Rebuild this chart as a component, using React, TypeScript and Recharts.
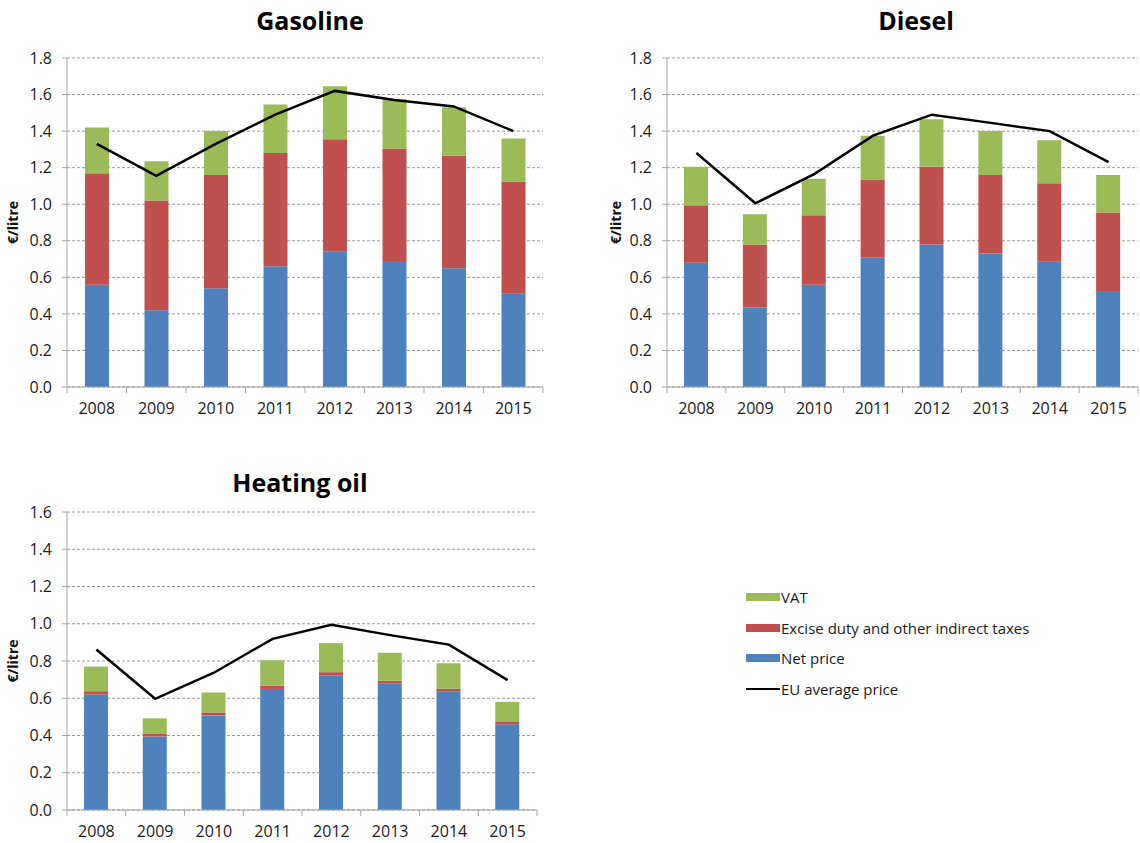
import React from 'react';
import { ComposedChart, Bar, Line, XAxis, YAxis, CartesianGrid } from 'recharts';

const FONT = '"Open Sans", sans-serif';

const years = ['2008', '2009', '2010', '2011', '2012', '2013', '2014', '2015'];

const gasolineNet = [0.56, 0.42, 0.54, 0.66, 0.74, 0.69, 0.65, 0.51];
const gasolineExcise = [0.61, 0.6, 0.62, 0.62, 0.615, 0.615, 0.615, 0.615];
const gasolineVat = [0.25, 0.215, 0.24, 0.265, 0.29, 0.27, 0.265, 0.235];
const gasolineEu = [1.33, 1.155, 1.33, 1.49, 1.62, 1.57, 1.535, 1.4];

const dieselNet = [0.68, 0.435, 0.56, 0.71, 0.78, 0.73, 0.685, 0.525];
const dieselExcise = [0.315, 0.345, 0.38, 0.425, 0.425, 0.43, 0.43, 0.43];
const dieselVat = [0.21, 0.165, 0.2, 0.24, 0.26, 0.24, 0.235, 0.205];
const dieselEu = [1.28, 1.005, 1.165, 1.375, 1.49, 1.445, 1.4, 1.23];

const heatingNet = [0.62, 0.395, 0.508, 0.65, 0.722, 0.678, 0.635, 0.46];
const heatingExcise = [0.018, 0.016, 0.016, 0.017, 0.018, 0.016, 0.016, 0.016];
const heatingVat = [0.132, 0.081, 0.107, 0.137, 0.156, 0.15, 0.137, 0.105];
const heatingEu = [0.862, 0.597, 0.737, 0.919, 0.994, 0.939, 0.888, 0.697];

const ticks18 = [0, 0.2, 0.4, 0.6, 0.8, 1.0, 1.2, 1.4, 1.6, 1.8];
const ticks16 = [0, 0.2, 0.4, 0.6, 0.8, 1.0, 1.2, 1.4, 1.6];

const COLORS = { net: '#4F81BD', excise: '#C0504D', vat: '#9BBB59', eu: '#000000' };
const NAMES = {
  vat: 'VAT',
  excise: 'Excise duty and other indirect taxes',
  net: 'Net price',
  eu: 'EU average price',
};
const legendOrder: Array<'vat' | 'excise' | 'net' | 'eu'> = ['vat', 'excise', 'net', 'eu'];

function buildRows(net: number[], excise: number[], vat: number[], eu: number[]) {
  return years.map((y, i) => ({ year: y, net: net[i], excise: excise[i], vat: vat[i], eu: eu[i] }));
}

const AXIS_COLOR = '#A6A6A6';
const XH = 32;
const TICK_FS = 16;

type PanelProps = {
  title: string;
  rows: any[];
  yMax: number;
  yTicks: number[];
  left: number;
  top: number;
  width: number;
  height: number;
  plotLeft: number;
  plotRight: number;
  plotTop: number;
  plotBottom: number;
  titleCx: number;
  titleCy: number;
  labelCx: number;
};

function Panel(p: PanelProps) {
  const bw = (p.plotRight - p.plotLeft) / years.length;
  const axisY = p.plotBottom;
  const renderTick = (props: any) => {
    const { x, payload, index } = props;
    return (
      <g>
        <line x1={x + bw / 2} x2={x + bw / 2} y1={axisY} y2={axisY + 6} stroke={AXIS_COLOR} strokeWidth={1} />
        {index === 0 && (
          <line x1={x - bw / 2} x2={x - bw / 2} y1={axisY} y2={axisY + 6} stroke={AXIS_COLOR} strokeWidth={1} />
        )}
        <text x={x} y={axisY + 21} dy="0.36em" textAnchor="middle" fill="#1a1a1a" fontSize={TICK_FS} fontFamily={FONT}>
          {payload.value}
        </text>
      </g>
    );
  };
  const cy = (p.plotTop + p.plotBottom) / 2;
  const renderLabel = () => (
    <text
      x={p.labelCx}
      y={cy}
      transform={`rotate(-90 ${p.labelCx} ${cy})`}
      textAnchor="middle"
      dy="0.36em"
      fontSize={14}
      fontWeight="bold"
      fontFamily={FONT}
      fill="#111"
    >
      €/litre
    </text>
  );
  return (
    <div style={{ position: 'absolute', left: p.left, top: p.top, width: p.width, height: p.height }}>
      <div
        style={{
          position: 'absolute',
          left: p.titleCx - 200,
          top: p.titleCy - 13,
          width: 400,
          textAlign: 'center',
          fontFamily: FONT,
          fontWeight: 'bold',
          fontSize: 25,
          lineHeight: '25px',
          color: '#000',
          zIndex: 2,
        }}
      >
        {p.title}
      </div>
      <ComposedChart
        width={p.width}
        height={p.height}
        data={p.rows}
        margin={{ top: p.plotTop, right: p.width - p.plotRight, bottom: p.height - p.plotBottom - XH, left: 0 }}
      >
        <CartesianGrid vertical={false} stroke="#999" strokeDasharray="3 2" />
        <XAxis
          dataKey="year"
          height={XH}
          tickLine={false}
          axisLine={{ stroke: AXIS_COLOR }}
          tick={renderTick}
          interval={0}
        />
        <YAxis
          type="number"
          width={p.plotLeft}
          domain={[0, p.yMax]}
          ticks={p.yTicks}
          tickFormatter={(v: number) => v.toFixed(1)}
          tickSize={5}
          tickMargin={10}
          axisLine={{ stroke: AXIS_COLOR }}
          tickLine={{ stroke: AXIS_COLOR }}
          tick={{ fill: '#1a1a1a', fontSize: TICK_FS, fontFamily: FONT }}
          allowDataOverflow
          label={renderLabel}
        />
        <Bar dataKey="net" name={NAMES.net} stackId="a" fill={COLORS.net} barSize={24} isAnimationActive={false} />
        <Bar dataKey="excise" name={NAMES.excise} stackId="a" fill={COLORS.excise} barSize={24} isAnimationActive={false} />
        <Bar dataKey="vat" name={NAMES.vat} stackId="a" fill={COLORS.vat} barSize={24} isAnimationActive={false} />
        <Line
          type="linear"
          dataKey="eu"
          name={NAMES.eu}
          stroke={COLORS.eu}
          strokeWidth={2.5}
          dot={false}
          activeDot={false}
          isAnimationActive={false}
        />
      </ComposedChart>
    </div>
  );
}

function LegendBox() {
  return (
    <div style={{ position: 'absolute', left: 746, top: 582, fontFamily: FONT, fontSize: 15, color: '#1a1a1a' }}>
      {legendOrder.map((k) => (
        <div key={k} style={{ display: 'flex', alignItems: 'center', height: 30.5 }}>
          <div style={{ width: 34, height: 30.5, display: 'flex', alignItems: 'center' }}>
            <div
              style={{
                width: 34,
                height: k === 'eu' ? 2.5 : 8,
                background: COLORS[k],
              }}
            />
          </div>
          <span style={{ marginLeft: 1, whiteSpace: 'nowrap', lineHeight: '30px' }}>{NAMES[k]}</span>
        </div>
      ))}
    </div>
  );
}

export default function App() {
  const gas = buildRows(gasolineNet, gasolineExcise, gasolineVat, gasolineEu);
  const dsl = buildRows(dieselNet, dieselExcise, dieselVat, dieselEu);
  const heat = buildRows(heatingNet, heatingExcise, heatingVat, heatingEu);
  return (
    <div style={{ position: 'absolute', left: 0, top: 0, width: 1140, height: 843, background: '#fff', overflow: 'hidden' }}>
      <Panel
        title="Gasoline"
        rows={gas}
        yMax={1.8}
        yTicks={ticks18}
        left={0}
        top={0}
        width={570}
        height={430}
        plotLeft={67}
        plotRight={543}
        plotTop={58}
        plotBottom={387}
        titleCx={310}
        titleCy={21}
        labelCx={13}
      />
      <Panel
        title="Diesel"
        rows={dsl}
        yMax={1.8}
        yTicks={ticks18}
        left={570}
        top={0}
        width={570}
        height={430}
        plotLeft={97}
        plotRight={568}
        plotTop={58}
        plotBottom={387}
        titleCx={346}
        titleCy={21}
        labelCx={46}
      />
      <Panel
        title="Heating oil"
        rows={heat}
        yMax={1.6}
        yTicks={ticks16}
        left={0}
        top={440}
        width={570}
        height={403}
        plotLeft={67}
        plotRight={537}
        plotTop={72}
        plotBottom={370}
        titleCx={300}
        titleCy={43}
        labelCx={13}
      />
      <LegendBox />
    </div>
  );
}
